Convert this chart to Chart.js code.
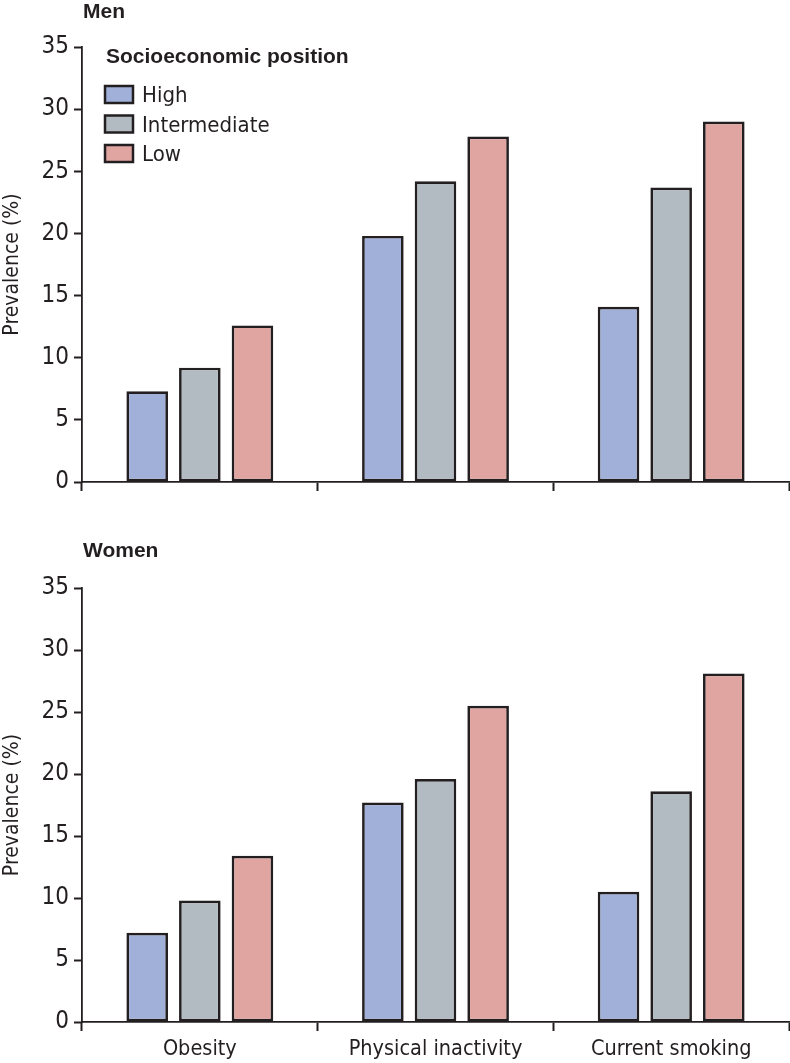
<!DOCTYPE html>
<html>
<head>
<meta charset="utf-8">
<script src="https://cdn.jsdelivr.net/npm/chart.js@4.4.1/dist/chart.umd.min.js"></script>
<style>
html, body { margin: 0; padding: 0; background: #fff; }
#wrap { width: 790px; height: 1063px; position: relative; }
.box { position: absolute; left: 0; width: 790px; }
</style>
</head>
<body>
<div id="wrap">
  <div class="box" style="top:0;height:520px"><canvas id="men"></canvas></div>
  <div class="box" style="top:520px;height:543px"><canvas id="women"></canvas></div>
</div>
<script>
// DATA
const categories = ["Obesity", "Physical inactivity", "Current smoking"];
const groups = ["High", "Intermediate", "Low"];
const menHigh = [7.3, 19.8, 14.1];
const menIntermediate = [9.2, 24.2, 23.7];
const menLow = [12.6, 27.8, 29.0];
const womenHigh = [7.2, 17.7, 10.5];
const womenIntermediate = [9.8, 19.6, 18.6];
const womenLow = [13.4, 25.5, 28.1];
const yTicks = [0, 5, 10, 15, 20, 25, 30, 35];

const ink = '#231f20';
const colors = ['#a0b0d8', '#b3bbc2', '#e1a5a1'];
const narrow = '"Liberation Sans Narrow", "DejaVu Sans Condensed", sans-serif';
const wide = '"Liberation Sans", Arial, sans-serif';

// panel title + legend drawn in the canvas
const panelText = {
    id: 'panelText',
    afterDraw(chart, args, opts) {
        const ctx = chart.ctx, a = chart.chartArea;
        ctx.save();
        ctx.fillStyle = ink;
        ctx.textBaseline = 'alphabetic';
        ctx.font = 'bold 21px ' + wide;
        ctx.fillText(opts.title, a.left + 1, opts.titleY);
        if (opts.legend) {
            ctx.font = 'bold 21px ' + wide;
            ctx.fillText('Socioeconomic position', 106, 63);
            ctx.font = '22px ' + narrow;
            chart.data.datasets.forEach((ds, i) => {
                const y = 86 + i * 29.5;
                ctx.fillStyle = ds.backgroundColor;
                ctx.fillRect(105, y, 28, 17);
                ctx.strokeStyle = ink;
                ctx.lineWidth = 2.5;
                ctx.strokeRect(105, y, 28, 17);
                ctx.fillStyle = ink;
                ctx.fillText(ds.label, 142, y + 16);
            });
        }
        ctx.restore();
    }
};

function makeChart(id, high, mid, low, opts) {
    const values = [high, mid, low];
    new Chart(document.getElementById(id), {
        type: 'bar',
        data: {
            labels: categories,
            datasets: groups.map((g, i) => ({
                label: g,
                data: values[i],
                backgroundColor: colors[i],
                borderColor: ink,
                borderWidth: 2.7,
                borderSkipped: false,
                categoryPercentage: 0.67,
                barPercentage: 0.79
            }))
        },
        plugins: [panelText],
        options: {
            responsive: true,
            maintainAspectRatio: false,
            animation: false,
            layout: { padding: { top: opts.top, right: 1, left: 0, bottom: 0 } },
            scales: {
                x: {
                    grid: { drawOnChartArea: false, offset: true, tickLength: 9, tickWidth: 2, tickColor: ink },
                    border: { color: ink, width: 1.8 },
                    ticks: { display: opts.xLabels, color: ink, padding: 6, font: { family: narrow, size: 21.5 } },
                    afterFit(scale) { scale.height = opts.xHeight; }
                },
                y: {
                    min: 0,
                    max: 35,
                    afterBuildTicks(scale) { scale.ticks = yTicks.map(v => ({ value: v })); },
                    grid: { drawOnChartArea: false, tickLength: 8, tickWidth: 2, tickColor: ink },
                    border: { color: ink, width: 1.8 },
                    ticks: { color: ink, padding: 5, font: { family: narrow, size: 24 } },
                    title: { display: true, text: 'Prevalence (%)', color: ink, padding: { top: 0, bottom: 0 }, font: { family: narrow, size: 21 } },
                    afterFit(scale) { scale.width = 82; }
                }
            },
            plugins: {
                legend: { display: false },
                tooltip: { enabled: false },
                panelText: opts.panel
            }
        }
    });
}

makeChart('men', menHigh, menIntermediate, menLow,
    { top: 47, xHeight: 38, xLabels: false, panel: { title: 'Men', titleY: 18, legend: true } });
makeChart('women', womenHigh, womenIntermediate, womenLow,
    { top: 68, xHeight: 41, xLabels: true, panel: { title: 'Women', titleY: 37, legend: false } });
</script>
</body>
</html>
